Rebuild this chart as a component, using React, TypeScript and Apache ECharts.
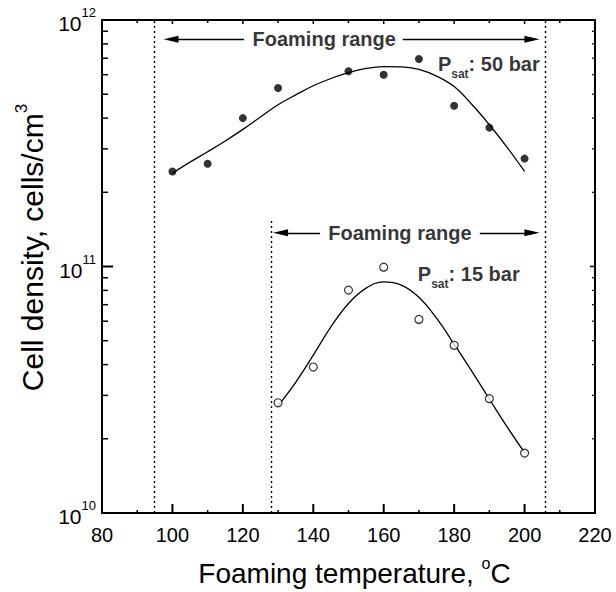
import React, { useEffect, useRef } from "react";
import * as echarts from "echarts";

// ---- data ----
const tempsHigh = [100, 110, 120, 130, 150, 160, 170, 180, 190, 200];
const densityHigh = [2.43e11, 2.61e11, 4.0e11, 5.3e11, 6.2e11, 6.0e11, 6.95e11, 4.49e11, 3.66e11, 2.74e11];

const tempsLow = [130, 140, 150, 160, 170, 180, 190, 200];
const densityLow = [2.8e10, 3.91e10, 8.02e10, 9.94e10, 6.1e10, 4.79e10, 2.91e10, 1.75e10];

// fitted curves
const fitHighT = [100, 105, 110, 115, 120, 125, 130, 135, 140, 145, 150, 155, 160, 165, 170, 175, 180, 185, 190, 195, 200];
const fitHighV = [2.39e11, 2.65e11, 2.92e11, 3.23e11, 3.6e11, 4.04e11, 4.53e11, 4.97e11, 5.41e11, 5.79e11, 6.12e11, 6.36e11, 6.47e11, 6.46e11, 6.3e11, 5.92e11, 5.37e11, 4.55e11, 3.76e11, 3.05e11, 2.43e11];

const fitLowT = [130, 135, 140, 145, 150, 155, 160, 165, 170, 175, 180, 185, 190, 195, 200];
const fitLowV = [2.72e10, 3.39e10, 4.37e10, 5.69e10, 7.08e10, 8.17e10, 8.67e10, 8.41e10, 7.5e10, 6.17e10, 4.84e10, 3.76e10, 2.9e10, 2.24e10, 1.76e10];

// range markers
const rangeHighX = [94.8, 206];
const rangeLowX = [128, 206];
const rangeLowTop = 1.55e11;
const arrowHighY = 8.35e11;
const arrowLowY = 1.37e11;
const arrowHighSegs = [[120.3, 99.6], [165.4, 202.1]];
const arrowLowSegs = [[141.9, 130.7], [187.3, 202.1]];
const rangeTextHigh = [143.1, arrowHighY];
const rangeTextLow = [164.6, arrowLowY];
const psatHigh = { x: 175.4, y: 6.47e11, label: "50 bar" };
const psatLow = { x: 169.7, y: 9.1e10, label: "15 bar" };

// axis ticks
const xMin = 80, xMax = 220, xStep = 20;
const yMin = 1e10, yMax = 1e12;
const xMajorTicks = [80, 100, 120, 140, 160, 180, 200, 220];
const xMinorTicks = [90, 110, 130, 150, 170, 190, 210];
const yMajorTicks = [1e10, 1e11, 1e12];
const minorMantissas = [2, 3, 4, 5, 6, 7, 8, 9];
const decades = [1e10, 1e11];

const FONT = "'Liberation Sans', Arial, Helvetica, sans-serif";

export default function App() {
  const ref = useRef<HTMLDivElement>(null);
  useEffect(() => {
    const el = ref.current!;
    const chart = echarts.init(el, undefined, { renderer: "svg" });
    const yMinorTicks: number[] = [];
    decades.forEach((d) => minorMantissas.forEach((m) => yMinorTicks.push(m * d)));

    // tick rows: [x, y, direction(0 up,1 down,2 right,3 left), length, width]
    const tickRows: number[][] = [];
    xMajorTicks.forEach((x) => {
      tickRows.push([x, yMin, 0, 9, 2]);
      tickRows.push([x, yMax, 1, 4, 1.5]);
    });
    xMinorTicks.forEach((x) => {
      tickRows.push([x, yMin, 0, 3, 1.5]);
      tickRows.push([x, yMax, 1, 3, 1.5]);
    });
    yMajorTicks.forEach((y) => {
      tickRows.push([xMin, y, 2, 11, 2]);
      tickRows.push([xMax, y, 3, 5, 1.5]);
    });
    yMinorTicks.forEach((y) => {
      tickRows.push([xMin, y, 2, 6, 1.5]);
      tickRows.push([xMax, y, 3, 3, 1.2]);
    });

    const dotted = { color: "#000", width: 1.4, type: [2, 3] as any };
    const arrowStyle = { color: "#000", width: 1.3, type: "solid" as any };
    const xTitleRich = {
      t: { fontSize: 28, fontFamily: FONT, color: "#000", lineHeight: 32, verticalAlign: "bottom" },
      s: { fontSize: 16, fontFamily: FONT, color: "#000", lineHeight: 16, verticalAlign: "top" },
    };
    const yTitleRich = {
      t: { fontSize: 30, fontFamily: FONT, color: "#000", lineHeight: 34, verticalAlign: "bottom" },
      s: { fontSize: 17, fontFamily: FONT, color: "#000", lineHeight: 17, verticalAlign: "top" },
    };
    const frameLine = { show: true, onZero: false, lineStyle: { color: "#000", width: 2 } };

    const option: any = {
      animation: false,
      backgroundColor: "#fff",
      textStyle: { fontFamily: FONT },
      grid: { left: 102, top: 20, width: 493, height: 494 },
      xAxis: [
        {
          type: "value",
          min: xMin,
          max: xMax,
          interval: xStep,
          position: "bottom",
          splitLine: { show: false },
          axisLine: frameLine,
          axisTick: { show: false },
          axisLabel: { show: true, color: "#000", fontSize: 20, fontFamily: FONT, margin: 12 },
          name: "{t|Foaming temperature, }{s|o}{t|C}",
          nameLocation: "middle",
          nameGap: 42,
          nameTextStyle: { rich: xTitleRich, padding: [0, 0, 0, 12] },
        },
        {
          type: "value",
          min: xMin,
          max: xMax,
          interval: xStep,
          position: "top",
          splitLine: { show: false },
          axisLine: frameLine,
          axisTick: { show: false },
          axisLabel: { show: false },
        },
      ],
      yAxis: [
        {
          type: "log",
          logBase: 10,
          min: yMin,
          max: yMax,
          position: "left",
          splitLine: { show: false },
          axisLine: frameLine,
          axisTick: { show: false },
          axisLabel: {
            show: true,
            color: "#000",
            margin: 6,
            formatter: (v: number) => `{b|10}{s|${Math.round(Math.log10(v))}}`,
            rich: {
              b: { fontSize: 21, fontFamily: FONT, color: "#000", lineHeight: 28, verticalAlign: "bottom" },
              s: { fontSize: 13, fontFamily: FONT, color: "#000", lineHeight: 14, verticalAlign: "top" },
            },
          },
          name: "{t|Cell density, cells/cm}{s|3}",
          nameLocation: "middle",
          nameRotate: 90,
          nameGap: 49,
          nameTextStyle: { rich: yTitleRich, padding: [0, 0, 0, 38] },
        },
        {
          type: "log",
          logBase: 10,
          min: yMin,
          max: yMax,
          position: "right",
          splitLine: { show: false },
          axisLine: frameLine,
          axisTick: { show: false },
          axisLabel: { show: false },
        },
      ],
      series: [
        // axis ticks, placed through the axes' scales
        {
          type: "custom",
          xAxisIndex: 0,
          yAxisIndex: 0,
          silent: true,
          clip: false,
          z: 4,
          data: tickRows,
          renderItem: (params: any, api: any) => {
            const p = api.coord([api.value(0), api.value(1)]);
            const dir = api.value(2);
            const len = api.value(3);
            let x2 = p[0], y2 = p[1];
            if (dir === 0) y2 -= len;
            else if (dir === 1) y2 += len;
            else if (dir === 2) x2 += len;
            else x2 -= len;
            return {
              type: "line",
              shape: { x1: p[0], y1: p[1], x2, y2 },
              style: { stroke: "#000", lineWidth: api.value(4) },
            };
          },
        },
        // fitted curves
        {
          type: "line",
          smooth: 0.4,
          showSymbol: false,
          lineStyle: { color: "#000", width: 1.3 },
          data: fitHighT.map((t, i) => [t, fitHighV[i]]),
          z: 3,
          markLine: {
            silent: true,
            symbol: ["none", "none"],
            label: { show: false },
            lineStyle: dotted,
            data: [
              [{ coord: [rangeHighX[0], yMin] }, { coord: [rangeHighX[0], yMax] }],
              [{ coord: [rangeHighX[1], yMin] }, { coord: [rangeHighX[1], yMax] }],
              [{ coord: [rangeLowX[0], yMin] }, { coord: [rangeLowX[0], rangeLowTop] }],
            ],
          },
        },
        {
          type: "line",
          smooth: 0.4,
          showSymbol: false,
          lineStyle: { color: "#000", width: 1.3 },
          data: fitLowT.map((t, i) => [t, fitLowV[i]]),
          z: 3,
          markLine: {
            silent: true,
            symbol: ["none", "triangle"],
            symbolSize: [7, 15],
            label: { show: false },
            lineStyle: arrowStyle,
            itemStyle: { color: "#000" },
            data: [
              ...arrowHighSegs.map((s) => [{ coord: [s[0], arrowHighY] }, { coord: [s[1], arrowHighY] }]),
              ...arrowLowSegs.map((s) => [{ coord: [s[0], arrowLowY] }, { coord: [s[1], arrowLowY] }]),
            ],
          },
        },
        // data points
        {
          type: "scatter",
          symbol: "circle",
          symbolSize: 8,
          itemStyle: { color: "#000" },
          data: tempsHigh.map((t, i) => [t, densityHigh[i]]),
          z: 5,
        },
        {
          type: "scatter",
          symbol: "circle",
          symbolSize: 8,
          itemStyle: { color: "#fff", borderColor: "#000", borderWidth: 1.2 },
          data: tempsLow.map((t, i) => [t, densityLow[i]]),
          z: 5,
        },
        // annotations
        {
          type: "scatter",
          symbolSize: 0,
          silent: true,
          label: {
            show: true,
            position: "inside",
            formatter: "Foaming range",
            color: "#000",
            fontSize: 20,
            fontWeight: "bold",
            fontFamily: FONT,
          },
          data: [rangeTextHigh, rangeTextLow],
          z: 6,
        },
        {
          type: "scatter",
          symbolSize: 0,
          silent: true,
          label: {
            show: true,
            position: "right",
            distance: 0,
            formatter: (p: any) => `{p|P}{s|sat}{p|: ${p.data[2]}}`,
            rich: {
              p: { fontSize: 20, fontWeight: "bold", fontFamily: FONT, color: "#000", lineHeight: 26, verticalAlign: "top" },
              s: { fontSize: 12, fontWeight: "bold", fontFamily: FONT, color: "#000", lineHeight: 12, verticalAlign: "bottom" },
            },
          },
          data: [
            [psatHigh.x, psatHigh.y, psatHigh.label],
            [psatLow.x, psatLow.y, psatLow.label],
          ],
          z: 6,
        },
      ],
    };
    chart.setOption(option);
    return () => chart.dispose();
  }, []);
  return (
    <div
      ref={ref}
      style={{ position: "absolute", left: 0, top: 0, width: 616, height: 592, background: "#fff" }}
    />
  );
}
